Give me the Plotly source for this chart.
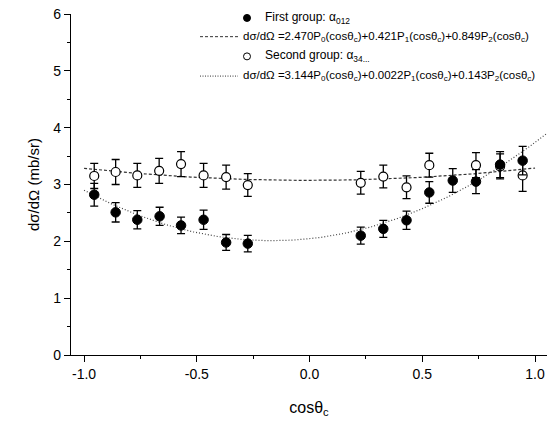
import numpy as np
import plotly.graph_objects as go

# ---- data ----
x_first = [-0.955, -0.86, -0.764, -0.665, -0.57, -0.47, -0.37, -0.274,
           0.227, 0.327, 0.43, 0.531, 0.635, 0.738, 0.845, 0.945]
y_first = [2.82, 2.51, 2.38, 2.44, 2.28, 2.38, 1.98, 1.96,
           2.10, 2.22, 2.37, 2.86, 3.07, 3.05, 3.35, 3.42]
err_first = [0.20, 0.17, 0.16, 0.16, 0.145, 0.17, 0.14, 0.145,
             0.15, 0.15, 0.16, 0.19, 0.21, 0.21, 0.23, 0.25]

x_second = [-0.955, -0.86, -0.764, -0.667, -0.57, -0.47, -0.37, -0.274,
            0.227, 0.327, 0.43, 0.531, 0.738, 0.845, 0.945]
y_second = [3.15, 3.22, 3.16, 3.24, 3.36, 3.16, 3.13, 2.99,
            3.03, 3.14, 2.95, 3.34, 3.34, 3.32, 3.16]
err_second = [0.22, 0.22, 0.21, 0.22, 0.22, 0.21, 0.21, 0.20,
              0.20, 0.20, 0.20, 0.21, 0.22, 0.22, 0.28]

# Legendre fit coefficients (P0, P1, P2) from the legend
coef_first = [2.470, 0.421, 0.849]
coef_second = [3.144, 0.0022, 0.143]
fit_first_range = [-1.0, 1.05]
fit_second_range = [-1.0, 1.0]

legend_texts = [
    "First group: α<sub>012</sub>",
    "dσ/dΩ =2.470P<sub>0</sub>(cosθ<sub>c</sub>)+0.421P<sub>1</sub>(cosθ<sub>c</sub>)+0.849P<sub>2</sub>(cosθ<sub>c</sub>)",
    "Second group: α<sub>34...</sub>",
    "dσ/dΩ =3.144P<sub>0</sub>(cosθ<sub>c</sub>)+0.0022P<sub>1</sub>(cosθ<sub>c</sub>)+0.143P<sub>2</sub>(cosθ<sub>c</sub>)",
]


def legendre_sum(c, x):
    x = np.asarray(x)
    return c[0] + c[1] * x + c[2] * 0.5 * (3 * x ** 2 - 1)


FONT = "Arial, Liberation Sans, sans-serif"

fig = go.Figure()

xf = np.linspace(fit_first_range[0], fit_first_range[1], 200)
xs = np.linspace(fit_second_range[0], fit_second_range[1], 200)
fig.add_trace(go.Scatter(x=xs, y=legendre_sum(coef_second, xs), mode="lines",
                         line=dict(color="#333333", width=1.2, dash="3px,2px"),
                         showlegend=False, hoverinfo="skip"))
fig.add_trace(go.Scatter(x=xf, y=legendre_sum(coef_first, xf), mode="lines",
                         line=dict(color="#444444", width=1.2, dash="1px,2px"),
                         showlegend=False, hoverinfo="skip"))

fig.add_trace(go.Scatter(
    x=x_second, y=y_second, mode="markers",
    marker=dict(symbol="circle", size=9, color="white",
                line=dict(color="black", width=1.2)),
    error_y=dict(type="data", array=err_second, color="black",
                 thickness=1.3, width=4),
    showlegend=False))
fig.add_trace(go.Scatter(
    x=x_first, y=y_first, mode="markers",
    marker=dict(symbol="circle", size=9.5, color="black",
                line=dict(color="black", width=1)),
    error_y=dict(type="data", array=err_first, color="black",
                 thickness=1.3, width=4),
    showlegend=False))

# ---- hand-built legend (paper coordinates) ----
L, R, T, B = 71, 6, 9, 77
W, H = 553, 432
pw, ph = W - L - R, H - T - B


def px(xp):
    return (xp - L) / pw


def py(yp):
    return (H - B - yp) / ph


rows = [13, 32, 52, 72]
shapes = []
annotations = []
# markers
for i, filled in [(0, True), (2, False)]:
    shapes.append(dict(type="circle", xref="paper", yref="paper",
                       xsizemode="pixel", ysizemode="pixel",
                       xanchor=px(247), yanchor=py(rows[i]),
                       x0=-3.5, x1=3.5, y0=-3.5, y1=3.5,
                       fillcolor="black" if filled else "white",
                       line=dict(color="black", width=1)))
    annotations.append(dict(x=px(263), y=py(rows[i]), xref="paper", yref="paper",
                            text=legend_texts[i], showarrow=False,
                            xanchor="left", yanchor="middle",
                            font=dict(family=FONT, size=12, color="black")))
for i, dash in [(1, "3px,2px"), (3, "1px,1.5px")]:
    shapes.append(dict(type="line", xref="paper", yref="paper",
                       x0=px(200), x1=px(238), y0=py(rows[i]), y1=py(rows[i]),
                       line=dict(color="#333333", width=1, dash=dash)))
    annotations.append(dict(x=px(241), y=py(rows[i]), xref="paper", yref="paper",
                            text=legend_texts[i], showarrow=False,
                            xanchor="left", yanchor="middle",
                            font=dict(family=FONT, size=11.5, color="black")))

fig.update_layout(
    width=W, height=H,
    margin=dict(l=L, r=R, t=T, b=B),
    paper_bgcolor="white", plot_bgcolor="white",
    font=dict(family=FONT, color="black"),
    shapes=shapes, annotations=annotations,
    showlegend=False,
)
fig.update_xaxes(range=[-1.058, 1.053], tickvals=[-1.0, -0.5, 0.0, 0.5, 1.0],
                 ticktext=["-1.0", "-0.5", "0.0", "0.5", "1.0"],
                 ticks="outside", ticklen=6, tickwidth=1.2, tickcolor="black",
                 minor=dict(dtick=0.25, tick0=0, ticks="outside", ticklen=3,
                            tickcolor="black", showgrid=False),
                 showline=True, linecolor="black", linewidth=1.2,
                 showgrid=False, zeroline=False,
                 tickfont=dict(size=14),
                 title=dict(text="cosθ<sub>c</sub>", font=dict(size=16), standoff=20))
fig.update_yaxes(range=[0, 6], dtick=1, tick0=0,
                 ticks="outside", ticklen=6, tickwidth=1.2, tickcolor="black",
                 minor=dict(dtick=0.5, tick0=0, ticks="outside", ticklen=3,
                            tickcolor="black", showgrid=False),
                 showline=True, linecolor="black", linewidth=1.2,
                 showgrid=False, zeroline=False,
                 tickfont=dict(size=14),
                 title=dict(text="dσ/dΩ (mb/sr)", font=dict(size=15), standoff=10))

fig.write_html("out.html")
